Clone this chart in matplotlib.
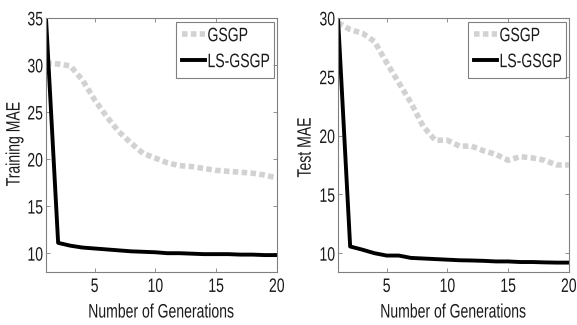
import matplotlib
matplotlib.use("Agg")
import matplotlib.pyplot as plt
from matplotlib import patheffects
from matplotlib.transforms import Affine2D
from matplotlib.patches import Rectangle

plt.rcParams['font.family'] = ['Liberation Sans', 'DejaVu Sans']

generations = list(range(1, 21))

train_gsgp = [30.2, 30.1, 29.9, 28.4, 26.3, 24.5, 22.9, 21.7, 20.6, 20.1,
              19.6, 19.3, 19.2, 19.0, 18.8, 18.7, 18.6, 18.5, 18.3, 18.0]
train_ls = [35.0, 11.1, 10.8, 10.6, 10.5, 10.4, 10.3, 10.2, 10.15, 10.1,
            10.0, 10.0, 9.95, 9.9, 9.9, 9.9, 9.85, 9.85, 9.8, 9.8]

test_gsgp = [29.6, 29.0, 28.7, 28.0, 26.2, 24.5, 22.8, 20.8, 19.6, 19.6,
             19.1, 19.1, 18.7, 18.4, 17.9, 18.2, 18.1, 17.9, 17.5, 17.5]
test_ls = [30.0, 10.57, 10.3, 10.0, 9.8, 9.8, 9.6, 9.55, 9.5, 9.45,
           9.4, 9.38, 9.35, 9.3, 9.3, 9.25, 9.25, 9.22, 9.2, 9.2]

labels = ["GSGP", "LS-GSGP"]


# original text is a tall narrow sans: draw a small font, stretched upward
class Tall(patheffects.AbstractPathEffect):
    def __init__(self, sy=1.39):
        super().__init__()
        self.sy = sy

    def draw_path(self, renderer, gc, tpath, affine, rgbFace=None):
        yc = 36  # middle of cap height, path units (em = 100)
        t = Affine2D().translate(0, -yc).scale(1, self.sy).translate(0, yc)
        m = affine.get_matrix() @ t.get_matrix()
        renderer.draw_path(gc, tpath, Affine2D(m), rgbFace)


FS = 10.1
TXT = "#1a1a1a"
tall = [Tall()]

fig = plt.figure(figsize=(5.77, 3.25), dpi=100)
ax1 = fig.add_axes([0.0797, 0.163, 0.400, 0.782])
ax2 = fig.add_axes([0.5858, 0.163, 0.400, 0.782])

panels = [
    (ax1, train_gsgp, train_ls, "Training MAE", (8, 35), [10, 15, 20, 25, 30, 35], -0.11, 0.504),
    (ax2, test_gsgp, test_ls, "Test MAE", (8.4, 30), [10, 15, 20, 25, 30], -0.114, 0.49),
]

for ax, g, ls, ylab, ylim, yt, ylx, yly in panels:
    ax.plot(generations, g, color="#d2d2d2", linewidth=4.0,
            linestyle=(0, (1.0, 0.6)), label=labels[0])
    ax.plot(generations, ls, color="black", linewidth=2.8, label=labels[1])
    ax.set_xlim(1, 20)
    ax.set_ylim(*ylim)
    ax.set_xticks([5, 10, 15, 20])
    ax.set_yticks(yt)
    ax.tick_params(direction="in", top=True, right=True, length=3,
                   width=0.6, color="#808080", labelsize=FS, labelcolor=TXT)
    ax.tick_params(axis="y", pad=2.2)
    ax.tick_params(axis="x", pad=5)
    for s in ax.spines.values():
        s.set_color("#808080")
        s.set_linewidth(0.8)
    ax.set_xlabel("Number of Generations", fontsize=FS, color=TXT)
    ax.set_ylabel(ylab, fontsize=FS, color=TXT)
    ax.xaxis.set_label_coords(0.5, -0.128)
    ax.yaxis.set_label_coords(ylx, yly)
    ax.xaxis.label.set_path_effects(tall)
    ax.yaxis.label.set_path_effects(tall)
    for t in ax.get_xticklabels() + ax.get_yticklabels():
        t.set_path_effects(tall)

    leg = ax.legend(loc="upper left", bbox_to_anchor=(0.563, 0.984),
                    fontsize=FS, handlelength=1.65, handletextpad=0.15,
                    borderaxespad=0, borderpad=0.45, labelspacing=0.85,
                    frameon=False)
    for t in leg.get_texts():
        t.set_color(TXT)
        t.set_path_effects(tall)
    ax.add_patch(Rectangle((0.563, 0.764), 0.424, 0.22, transform=ax.transAxes,
                           fill=False, edgecolor="#808080", linewidth=0.8, zorder=5))

fig.savefig("out.png", dpi=100)
